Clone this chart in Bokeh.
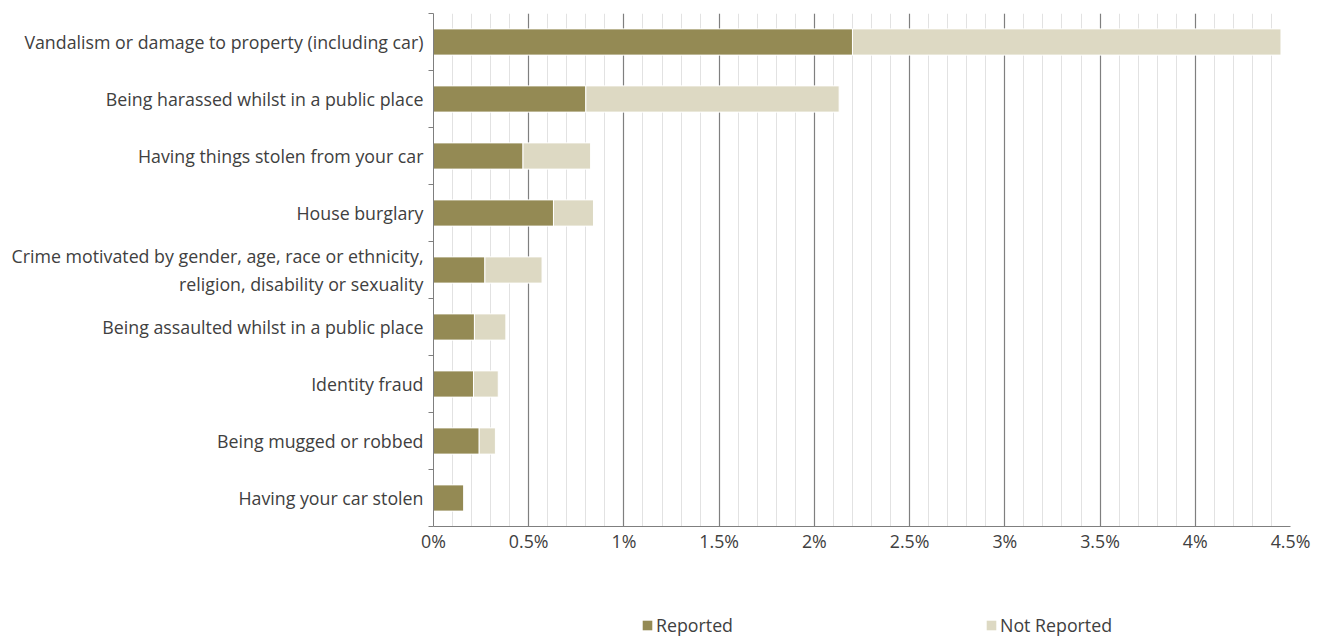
from bokeh.plotting import figure
from bokeh.layouts import column
from bokeh.models import (ColumnDataSource, FixedTicker, Range1d, CustomJSTickFormatter,
                          Legend, LegendItem)
from bokeh.embed import file_html
from bokeh.resources import INLINE

categories = [
    "Vandalism or damage to property (including car)",
    "Being harassed whilst in a public place",
    "Having things stolen from your car",
    "House burglary",
    "Crime motivated by gender, age, race or ethnicity,\nreligion, disability or sexuality",
    "Being assaulted whilst in a public place",
    "Identity fraud",
    "Being mugged or robbed",
    "Having your car stolen",
]
reported = [2.20, 0.80, 0.47, 0.63, 0.27, 0.215, 0.21, 0.24, 0.16]
not_reported = [2.25, 1.33, 0.355, 0.21, 0.30, 0.165, 0.13, 0.085, 0.0]
series_names = ["Reported", "Not Reported"]
series_colors = ["#948a54", "#ddd9c3"]
x_ticks = [0, 0.5, 1, 1.5, 2, 2.5, 3, 3.5, 4, 4.5]
x_minor = [round(i * 0.1, 1) for i in range(46)]

n = len(categories)
ypos = [n - 1 - i for i in range(n)]
total = [r + nr for r, nr in zip(reported, not_reported)]
src = ColumnDataSource(dict(y=ypos, zero=[0] * n, rep=reported, tot=total))

FONT = "Open Sans"
FS = "17.8px"
TXT = "#404040"

p = figure(width=1320, height=590, output_backend="svg", toolbar_location=None,
           x_range=Range1d(0, 4.5), y_range=Range1d(-0.5, n - 0.5),
           min_border_left=433, min_border_right=30, min_border_top=13,
           min_border_bottom=64)
p.outline_line_color = None

r1 = p.hbar(y="y", left="zero", right="rep", height=0.46, source=src,
            fill_color=series_colors[0], line_color="white", line_width=1)
r2 = p.hbar(y="y", left="rep", right="tot", height=0.46, source=src,
            fill_color=series_colors[1], line_color="white", line_width=1)

# x axis
p.xaxis.ticker = FixedTicker(ticks=x_ticks, minor_ticks=x_minor)
p.xaxis.formatter = CustomJSTickFormatter(code="return tick.toString() + '%';")
p.xaxis.axis_line_color = "#7f7f7f"
p.xaxis.major_tick_line_color = None
p.xaxis.minor_tick_line_color = None
p.xaxis.major_tick_out = 0
p.xaxis.major_tick_in = 0
p.xaxis.minor_tick_out = 0
p.xaxis.major_label_text_font = FONT
p.xaxis.major_label_text_font_size = FS
p.xaxis.major_label_text_color = TXT
p.xaxis.major_label_standoff = 2

p.xgrid.grid_line_color = "#7f7f7f"
p.xgrid.grid_line_width = 1.2
p.xgrid.minor_grid_line_color = "#e2e2e2"
p.ygrid.grid_line_color = None

# y axis
p.yaxis.ticker = FixedTicker(ticks=ypos, minor_ticks=[i - 0.5 for i in range(n + 1)])
p.yaxis.major_label_overrides = {y: c for y, c in zip(ypos, categories)}
p.yaxis.axis_line_color = "#7f7f7f"
p.yaxis.major_tick_line_color = None
p.yaxis.major_tick_out = 0
p.yaxis.major_tick_in = 0
p.yaxis.minor_tick_line_color = "#7f7f7f"
p.yaxis.minor_tick_out = 5
p.yaxis.minor_tick_in = 0
p.yaxis.major_label_text_font = FONT
p.yaxis.major_label_text_font_size = FS
p.yaxis.major_label_text_color = TXT
p.yaxis.major_label_standoff = 5

# legend strip below the chart (same bars, scrolled out of its view)
lg = figure(width=1320, height=49, output_backend="svg", toolbar_location=None,
            x_range=Range1d(0, 4.5), y_range=Range1d(100, 101),
            min_border_left=433, min_border_right=30, min_border_top=0,
            min_border_bottom=0)
lg.outline_line_color = None
lg.axis.visible = False
lg.grid.visible = False
lr1 = lg.hbar(y="y", left="zero", right="rep", height=0.46, source=src,
              fill_color=series_colors[0], line_color=None)
lr2 = lg.hbar(y="y", left="rep", right="tot", height=0.46, source=src,
              fill_color=series_colors[1], line_color=None)
legend = Legend(items=[LegendItem(label=s, renderers=[r]) for s, r in zip(series_names, [lr1, lr2])],
                orientation="horizontal", location=(208, 2),
                glyph_width=12, glyph_height=12, label_standoff=3, spacing=252,
                label_text_font=FONT, label_text_font_size=FS,
                label_text_color=TXT, border_line_color=None,
                background_fill_alpha=0, margin=0, padding=2)
lg.add_layout(legend, "center")

layout = column(p, lg, spacing=0)
open("out.html", "w").write(file_html(layout, INLINE))
